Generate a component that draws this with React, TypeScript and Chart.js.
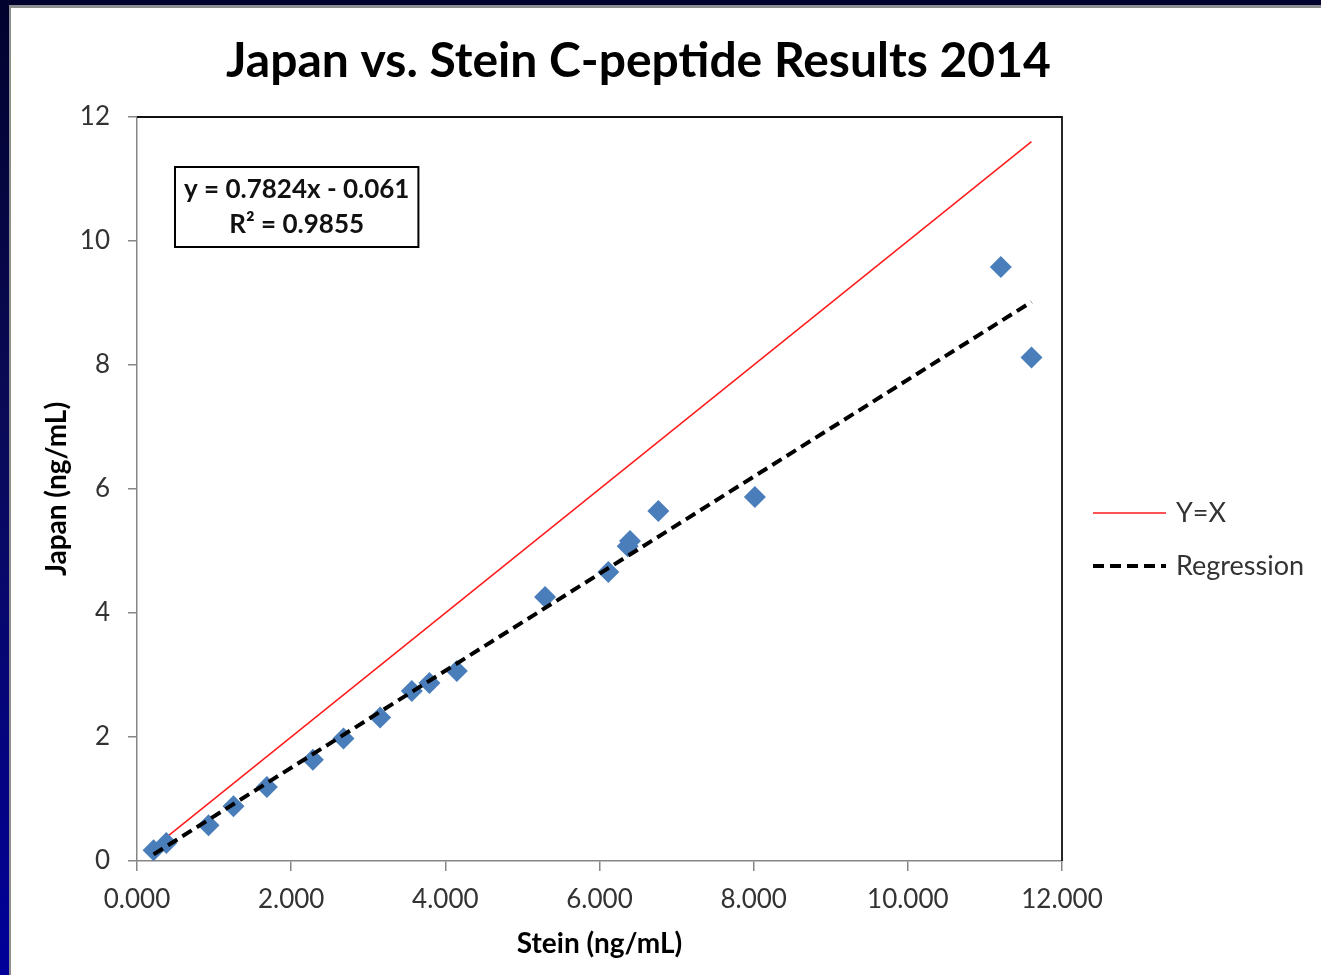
import React, { useEffect, useRef } from "react";
import { Chart, registerables } from "chart.js";

Chart.register(...registerables);

// Paired C-peptide results (ng/mL): Stein lab on x, Japan lab on y
const steinValues = [
  0.215, 0.38, 0.928, 1.252, 1.685, 2.282, 2.679, 3.154, 3.565, 3.794,
  4.149, 5.294, 6.114, 6.366, 6.396, 6.763, 8.016, 11.206, 11.604,
];
const japanValues = [
  0.173, 0.29, 0.576, 0.882, 1.194, 1.635, 1.974, 2.313, 2.742, 2.871,
  3.065, 4.258, 4.661, 5.076, 5.161, 5.645, 5.871, 9.581, 8.119,
];

// Linear trendline reported for the comparison
const regressionSlope = 0.7824;
const regressionIntercept = -0.061;
const rSquared = 0.9855;

const chartTitle = "Japan vs. Stein C-peptide Results 2014";
const xAxisTitle = "Stein (ng/mL)";
const yAxisTitle = "Japan (ng/mL)";
const identityLabel = "Y=X";
const regressionLabel = "Regression";
const legendOrder = [identityLabel, regressionLabel];
const equationLines = [
  `y = ${regressionSlope}x - ${Math.abs(regressionIntercept)}`,
  `R² = ${rSquared}`,
];
const xTickValues = [0, 2, 4, 6, 8, 10, 12];
const yTickValues = [0, 2, 4, 6, 8, 10, 12];

const FONT = 'Lato, "Open Sans", "DejaVu Sans", sans-serif';

// Draws the plot frame, heading, trendline equation box and the line legend
const slideDecor = {
  id: "slideDecor",
  afterDraw(chart: any) {
    const { ctx, chartArea: a } = chart;
    ctx.save();

    // top and right edges of the plot frame
    ctx.strokeStyle = "#111";
    ctx.lineWidth = 1.8;
    ctx.beginPath();
    ctx.moveTo(a.left, a.top);
    ctx.lineTo(a.right, a.top);
    ctx.lineTo(a.right, a.bottom);
    ctx.stroke();

    // heading
    ctx.fillStyle = "#000";
    ctx.textAlign = "center";
    ctx.textBaseline = "middle";
    ctx.font = `bold 48px ${FONT}`;
    ctx.fillText(chartTitle, (a.left + a.right) / 2 + 39, a.top - 55);

    // trendline equation box
    ctx.font = `bold 26px ${FONT}`;
    const textW = Math.max(...equationLines.map((t) => ctx.measureText(t).width));
    const boxX = a.left + 38;
    const boxY = a.top + 50;
    const boxW = textW + 18;
    const boxH = 80;
    ctx.fillStyle = "#fff";
    ctx.fillRect(boxX, boxY, boxW, boxH);
    ctx.strokeStyle = "#000";
    ctx.lineWidth = 2;
    ctx.strokeRect(boxX, boxY, boxW, boxH);
    ctx.fillStyle = "#111";
    equationLines.forEach((t, i) => {
      ctx.fillText(t, boxX + boxW / 2, boxY + 23 + i * 35);
    });

    // legend for the two reference lines
    const lines = legendOrder
      .map((name) => chart.data.datasets.find((d: any) => d.label === name))
      .filter(Boolean);
    const lx = a.right + 31;
    const ly = a.top + 396;
    ctx.textAlign = "left";
    ctx.font = `27px ${FONT}`;
    lines.forEach((d: any, i: number) => {
      const y = ly + i * 53;
      ctx.strokeStyle = d.borderColor;
      ctx.lineWidth = d.borderWidth;
      ctx.setLineDash(d.borderDash || []);
      ctx.beginPath();
      ctx.moveTo(lx, y);
      ctx.lineTo(lx + 73, y);
      ctx.stroke();
      ctx.setLineDash([]);
      ctx.fillStyle = "#333";
      ctx.fillText(d.label, lx + 83, y);
    });

    ctx.restore();
  },
};

export default function App() {
  const canvasRef = useRef<HTMLCanvasElement | null>(null);

  useEffect(() => {
    let chart: Chart | null = null;
    let cancelled = false;

    const points = steinValues.map((x, i) => ({ x, y: japanValues[i] }));
    const xMin = Math.min(...steinValues);
    const xMax = Math.max(...steinValues);
    const identity = [
      { x: xMin, y: xMin },
      { x: xMax, y: xMax },
    ];
    const regression = [
      { x: xMin, y: regressionSlope * xMin + regressionIntercept },
      { x: xMax, y: regressionSlope * xMax + regressionIntercept },
    ];

    const build = () => {
      if (cancelled || !canvasRef.current) return;
      chart = new Chart(canvasRef.current, {
        type: "scatter",
        data: {
          datasets: [
            {
              label: regressionLabel,
              data: regression,
              showLine: true,
              borderColor: "#000",
              borderWidth: 4,
              borderDash: [11, 6],
              pointRadius: 0,
              order: 0,
            } as any,
            {
              label: "Japan",
              data: points,
              showLine: false,
              pointStyle: "rectRot",
              pointRadius: 11,
              pointHoverRadius: 11,
              backgroundColor: "#4a7ebb",
              borderWidth: 0,
              order: 1,
            },
            {
              label: identityLabel,
              data: identity,
              showLine: true,
              borderColor: "#ff1a1a",
              borderWidth: 1.5,
              pointRadius: 0,
              order: 2,
            } as any,
          ],
        },
        options: {
          responsive: false,
          animation: false,
          layout: { padding: { top: 117, right: 259, bottom: 0, left: 0 } },
          plugins: {
            legend: { display: false },
            title: { display: false },
            tooltip: { enabled: false },
          },
          scales: {
            x: {
              type: "linear",
              position: "bottom",
              min: 0,
              max: 12,
              afterBuildTicks: (s: any) => {
                s.ticks = xTickValues.map((value) => ({ value }));
              },
              ticks: {
                callback: (v: any) => Number(v).toFixed(3),
                font: { family: FONT, size: 26 },
                color: "#333",
                padding: 13,
                maxRotation: 0,
                autoSkip: false,
              },
              grid: {
                drawOnChartArea: false,
                drawTicks: true,
                tickLength: 10,
                color: "#868686",
                lineWidth: 1.5,
              },
              border: { color: "#868686", width: 1.5 },
              title: {
                display: true,
                text: xAxisTitle,
                color: "#000",
                font: { family: FONT, size: 28, weight: "bold" },
                padding: { top: 0, bottom: 14 },
              },
              afterFit: (s: any) => {
                s.height = 114;
              },
            },
            y: {
              type: "linear",
              min: 0,
              max: 12,
              afterBuildTicks: (s: any) => {
                s.ticks = yTickValues.map((value) => ({ value }));
              },
              ticks: {
                font: { family: FONT, size: 26 },
                color: "#333",
                padding: 18,
                autoSkip: false,
              },
              grid: {
                drawOnChartArea: false,
                drawTicks: true,
                tickLength: 9,
                color: "#868686",
                lineWidth: 1.5,
              },
              border: { color: "#868686", width: 1.5 },
              title: {
                display: true,
                text: yAxisTitle,
                color: "#000",
                font: { family: FONT, size: 28, weight: "bold" },
                padding: { top: 40, bottom: 0 },
              },
              afterFit: (s: any) => {
                s.width = 137;
              },
            },
          },
        },
        plugins: [slideDecor],
      });
    };

    const loads = [`bold 48px Lato`, `bold 26px Lato`, `27px Lato`].map((f) =>
      (document as any).fonts?.load(f).catch(() => null)
    );
    Promise.all(loads).then(build, build);

    return () => {
      cancelled = true;
      if (chart) chart.destroy();
    };
  }, []);

  return (
    <div
      style={{
        position: "fixed",
        left: 0,
        top: 0,
        width: 1321,
        height: 975,
        overflow: "hidden",
        background: "linear-gradient(180deg, #02022e 0%, #0a0a5a 45%, #00009a 100%)",
      }}
    >
      <div
        style={{
          position: "absolute",
          left: 9,
          top: 5,
          right: -10,
          bottom: -10,
          background: "#fff",
          borderTop: "3px solid #8e8e8e",
          borderLeft: "2px solid #8e8e8e",
        }}
      />
      <canvas
        ref={canvasRef}
        width={1321}
        height={975}
        style={{ position: "absolute", left: 0, top: 0 }}
      />
    </div>
  );
}
